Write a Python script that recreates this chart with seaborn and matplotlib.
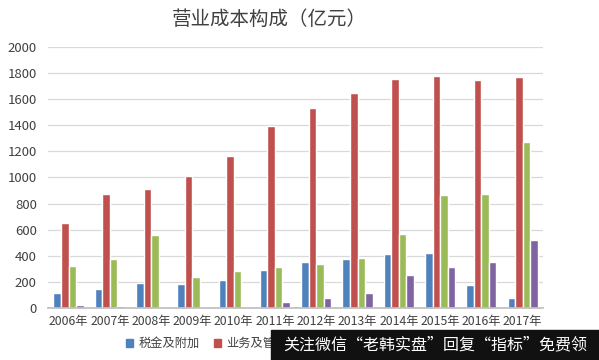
import matplotlib
matplotlib.use("Agg")
import matplotlib.pyplot as plt
import seaborn as sns
import pandas as pd
from matplotlib.patches import Rectangle

years = ["2006年", "2007年", "2008年", "2009年", "2010年", "2011年",
         "2012年", "2013年", "2014年", "2015年", "2016年", "2017年"]
series_names = ["税金及附加", "业务及管理费", "资产减值损失", "其他业务成本"]
tax = [115, 146, 187, 182, 215, 289, 351, 374, 414, 422, 172, 77]
admin = [647, 877, 915, 1013, 1164, 1394, 1530, 1650, 1757, 1776, 1750, 1773]
impair = [320, 373, 557, 233, 281, 312, 338, 379, 565, 867, 877, 1274]
other = [18, 13, 5, 3, 0, 46, 77, 115, 248, 310, 353, 519]
colors = ["#4F81BD", "#C0504D", "#9BBB59", "#8064A2"]
yticks = [0, 200, 400, 600, 800, 1000, 1200, 1400, 1600, 1800, 2000]

rows = []
for name, vals in zip(series_names, [tax, admin, impair, other]):
    for y, v in zip(years, vals):
        rows.append({"年份": y, "项目": name, "值": v})
df = pd.DataFrame(rows)

sns.set_theme(style="white")
plt.rcParams["font.family"] = ["Noto Sans CJK SC", "DejaVu Sans"]

fig = plt.figure(figsize=(5.99, 3.6), dpi=100)
ax = fig.add_axes([0.080, 0.145, 0.827, 0.724])
sns.barplot(data=df, x="年份", y="值", hue="项目",
            hue_order=series_names, order=years, palette=colors,
            width=0.73, gap=0, saturation=1, ax=ax, legend=False, errorbar=None)

ax.set_ylim(0, 2000)
ax.set_yticks(yticks)
ax.set_yticklabels([str(t) for t in yticks], fontsize=9.5, color="#404040")
ax.set_xlim(-0.5, len(years) - 0.5)
ax.set_xticks(range(len(years)))
ax.set_xticklabels(years, fontsize=8.8, color="#404040")
ax.set_xlabel("")
ax.set_ylabel("")
ax.yaxis.grid(True, color="#D9D9D9", linewidth=0.9)
ax.set_axisbelow(True)
for s in ["left", "right", "top"]:
    ax.spines[s].set_visible(False)
ax.spines["bottom"].set_color("#BFBFBF")
ax.tick_params(axis="y", length=0, pad=8)
ax.tick_params(axis="x", length=0, pad=5)
ax.set_xticks([i + 0.5 for i in range(-1, len(years))], minor=True)
ax.tick_params(axis="x", which="minor", length=3, color="#BFBFBF", direction="out")

fig.text(0.45, 0.945, "营业成本构成（亿元）", fontsize=14, ha="center", va="center",
         color="#404040")

handles = [Rectangle((0, 0), 1, 1, color=c) for c in colors]
fig.legend(handles, series_names, loc="center left", bbox_to_anchor=(0.192, 0.045),
           ncol=4, frameon=False, fontsize=8.8, handlelength=0.6, handleheight=0.6,
           handletextpad=0.4, columnspacing=1.2, labelcolor="#404040")

fig.patches.append(Rectangle((0.452, 0.0), 0.548, 0.083, transform=fig.transFigure,
                             color="#111111", zorder=10))
fig.text(0.727, 0.042, "关注微信\u201c老韩实盘\u201d回复\u201c指标\u201d免费领",
         fontsize=11.5, color="white", ha="center", va="center", zorder=11)

fig.savefig("out.png", dpi=100)
